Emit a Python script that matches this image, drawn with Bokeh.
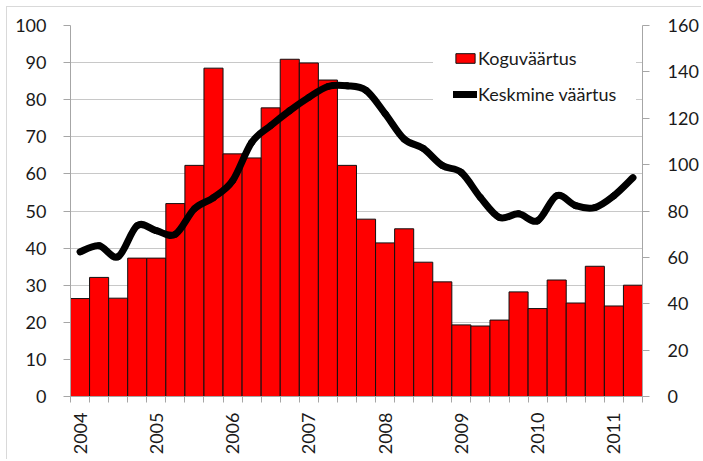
from bokeh.plotting import figure
from bokeh.models import Range1d, LinearAxis, FixedTicker, Legend, LegendItem
from bokeh.layouts import column
from bokeh.embed import file_html
from bokeh.resources import INLINE

# ---- data (quarterly, 2004 Q1 .. 2011 Q2) ----
year_labels = ["2004", "2005", "2006", "2007", "2008", "2009", "2010", "2011"]
koguvaartus = [26.4, 32.1, 26.5, 37.3, 37.3, 52.0, 62.3, 88.5, 65.4, 64.3,
               77.8, 90.9, 89.9, 85.3, 62.3, 47.8, 41.4, 45.2, 36.2, 30.9,
               19.3, 19.0, 20.6, 28.2, 23.7, 31.4, 25.2, 35.1, 24.4, 30.0]
keskmine = [62.4, 65.0, 60.3, 73.7, 71.5, 70.0, 81.0, 85.8, 93.0, 109.5,
            116.8, 123.3, 129.0, 133.7, 134.0, 132.0, 122.0, 111.0, 107.0, 99.6,
            96.6, 85.8, 77.2, 78.8, 75.8, 86.6, 82.3, 81.5, 86.6, 94.4]
left_ticks = [0, 10, 20, 30, 40, 50, 60, 70, 80, 90, 100]
right_ticks = [0, 20, 40, 60, 80, 100, 120, 140, 160]

n = len(koguvaartus)
xc = [i + 0.5 for i in range(n)]

FONT = "Lato"
TXT = "#1a1a1a"
AXIS_C = "#a6a6a6"
GRID_C = "#c8c8c8"

p = figure(width=694, height=452, output_backend="svg", toolbar_location=None,
           x_range=Range1d(0, n), y_range=Range1d(0, 100),
           min_border_left=63, min_border_right=56, min_border_top=18, min_border_bottom=63,
           x_axis_location=None, y_axis_location=None)
p.outline_line_color = None
p.background_fill_color = "white"
p.border_fill_color = "white"
p.xgrid.visible = False

p.extra_y_ranges = {"right": Range1d(0, 160)}

ly = LinearAxis(ticker=FixedTicker(ticks=left_ticks, minor_ticks=[]))
ry = LinearAxis(y_range_name="right", ticker=FixedTicker(ticks=right_ticks, minor_ticks=[]))
year_pos = [i * 4 + 0.5 for i in range(len(year_labels))]
bx = LinearAxis(ticker=FixedTicker(ticks=year_pos, minor_ticks=list(range(n + 1))),
                major_label_overrides={pos: lab for pos, lab in zip(year_pos, year_labels)})
for ax in (ly, ry, bx):
    ax.axis_line_color = AXIS_C
    ax.major_tick_line_color = AXIS_C
    ax.minor_tick_line_color = AXIS_C
    ax.major_label_text_font = FONT
    ax.major_label_text_font_size = "18px"
    ax.major_label_text_color = TXT
    ax.major_tick_in = 0
    ax.minor_tick_in = 0
for ax in (ly, ry):
    ax.major_tick_out = 7
    ax.minor_tick_out = 0
ly.major_label_standoff = 17
ry.major_label_standoff = 18
bx.major_tick_out = 0
bx.minor_tick_out = 6
bx.major_label_orientation = 3.14159265 / 2
bx.major_label_standoff = 10

p.add_layout(ly, "left")
p.add_layout(ry, "right")
p.add_layout(bx, "below")

p.ygrid.ticker = FixedTicker(ticks=left_ticks, minor_ticks=[])
p.ygrid.grid_line_color = GRID_C

bars = p.vbar(x=xc, top=koguvaartus, width=1.0, bottom=0,
              fill_color="#ff0000", line_color="#111111", line_width=1)

# smoothed line (Catmull-Rom segments through the data points, drawn as Beziers)
x0, y0, x1, y1, cx0, cy0, cx1, cy1 = [], [], [], [], [], [], [], []
for i in range(n - 1):
    xa, ya = xc[i], keskmine[i]
    xb, yb = xc[i + 1], keskmine[i + 1]
    xp, yp = (xc[i - 1], keskmine[i - 1]) if i > 0 else (xa, ya)
    xn, yn = (xc[i + 2], keskmine[i + 2]) if i + 2 < n else (xb, yb)
    x0.append(xa); y0.append(ya); x1.append(xb); y1.append(yb)
    cx0.append(xa + (xb - xp) / 6.0); cy0.append(ya + (yb - yp) / 6.0)
    cx1.append(xb - (xn - xa) / 6.0); cy1.append(yb - (yn - ya) / 6.0)
p.bezier(x0=x0, y0=y0, x1=x1, y1=y1, cx0=cx0, cy0=cy0, cx1=cx1, cy1=cy1,
         y_range_name="right", line_color="black", line_width=7, line_cap="round")

line = p.line(x=xc, y=keskmine, y_range_name="right", line_color="black",
              line_width=7, line_join="round", line_cap="round", visible=False)

legend = Legend(items=[LegendItem(label="Koguväärtus", renderers=[bars]),
                       LegendItem(label="Keskmine väärtus", renderers=[line])],
                location=(363, 271), orientation="vertical",
                glyph_width=24, glyph_height=12, label_height=20, spacing=14,
                label_standoff=1, padding=20, margin=0,
                label_text_font=FONT, label_text_font_size="18px", label_text_color=TXT,
                border_line_alpha=0, background_fill_color="white", background_fill_alpha=1)
p.add_layout(legend, "center")

layout = column(p, styles={"margin-left": "6px", "margin-top": "6px",
                           "border-top": "1px solid #d9d9d9",
                           "border-left": "1px solid #d9d9d9"})

open("out.html", "w").write(file_html(layout, INLINE))
